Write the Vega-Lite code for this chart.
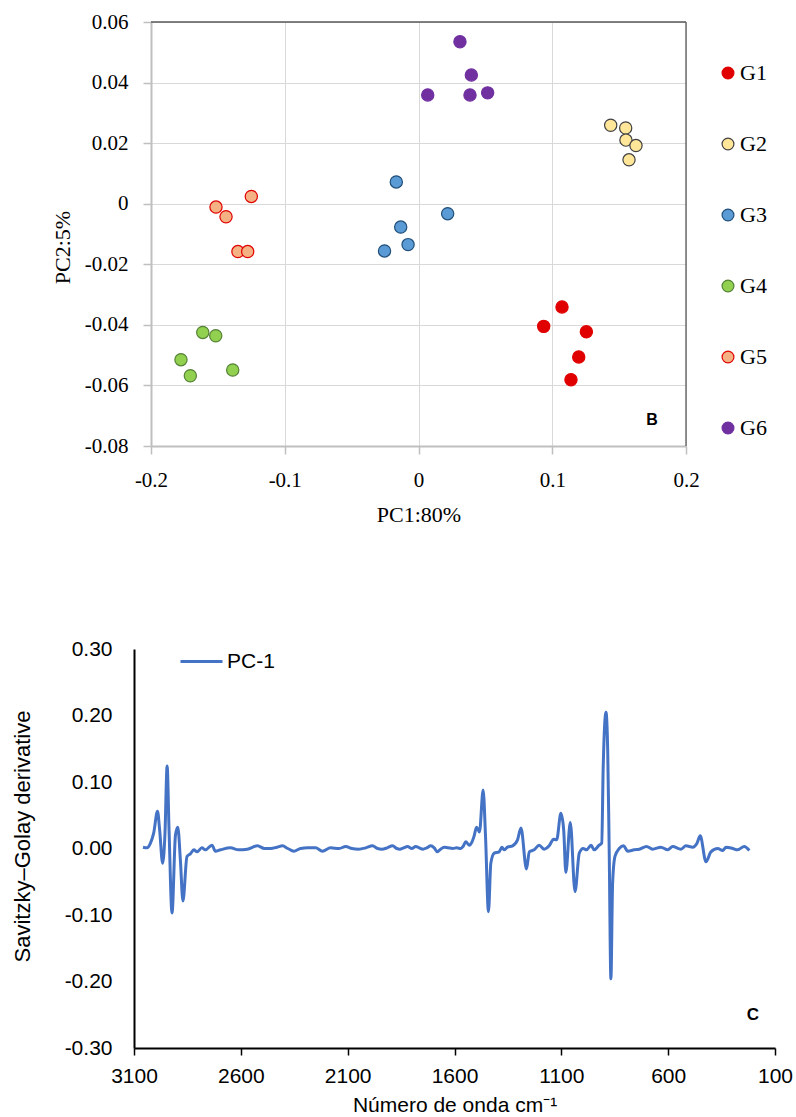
{
  "$schema": "https://vega.github.io/schema/vega-lite/v6.json",
  "padding": {"left": 11, "top": 11, "right": 5, "bottom": 0},
  "bounds": "flush",
  "spacing": 203,
  "config": {"view": {"stroke": null}, "background": "white"},
  "resolve": {"legend": {"color": "independent", "fill": "independent", "stroke": "independent"}},
  "vconcat": [
    {
      "width": 552,
      "height": 424,
      "layer": [
        {
          "data": {"values": [
            {"pc1": 0.1073, "pc2": -0.0341, "group": "G1"},
            {"pc1": 0.0936, "pc2": -0.0405, "group": "G1"},
            {"pc1": 0.1255, "pc2": -0.0423, "group": "G1"},
            {"pc1": 0.1198, "pc2": -0.0506, "group": "G1"},
            {"pc1": 0.114, "pc2": -0.0581, "group": "G1"},
            {"pc1": 0.1437, "pc2": 0.0259, "group": "G2"},
            {"pc1": 0.1549, "pc2": 0.025, "group": "G2"},
            {"pc1": 0.1551, "pc2": 0.021, "group": "G2"},
            {"pc1": 0.1626, "pc2": 0.0192, "group": "G2"},
            {"pc1": 0.1574, "pc2": 0.0145, "group": "G2"},
            {"pc1": -0.0166, "pc2": 0.0072, "group": "G3"},
            {"pc1": 0.0218, "pc2": -0.0033, "group": "G3"},
            {"pc1": -0.0133, "pc2": -0.0077, "group": "G3"},
            {"pc1": -0.0078, "pc2": -0.0135, "group": "G3"},
            {"pc1": -0.0254, "pc2": -0.0156, "group": "G3"},
            {"pc1": -0.1613, "pc2": -0.0425, "group": "G4"},
            {"pc1": -0.1516, "pc2": -0.0436, "group": "G4"},
            {"pc1": -0.1776, "pc2": -0.0515, "group": "G4"},
            {"pc1": -0.1706, "pc2": -0.0568, "group": "G4"},
            {"pc1": -0.1389, "pc2": -0.0549, "group": "G4"},
            {"pc1": -0.1514, "pc2": -0.0011, "group": "G5"},
            {"pc1": -0.1439, "pc2": -0.0043, "group": "G5"},
            {"pc1": -0.125, "pc2": 0.0024, "group": "G5"},
            {"pc1": -0.135, "pc2": -0.0158, "group": "G5"},
            {"pc1": -0.1277, "pc2": -0.0158, "group": "G5"},
            {"pc1": 0.031, "pc2": 0.0535, "group": "G6"},
            {"pc1": 0.0395, "pc2": 0.0425, "group": "G6"},
            {"pc1": 0.0069, "pc2": 0.0359, "group": "G6"},
            {"pc1": 0.0385, "pc2": 0.0359, "group": "G6"},
            {"pc1": 0.0517, "pc2": 0.0366, "group": "G6"}
          ]},
          "mark": {"type": "point", "filled": true, "size": 150, "strokeWidth": 1.2, "opacity": 1},
          "encoding": {
            "x": {
              "field": "pc1", "type": "quantitative",
              "scale": {"domain": [-0.2, 0.2], "range": [17, 552], "nice": false, "zero": false},
              "axis": {
                "values": [-0.2, -0.1, 0, 0.1, 0.2],
                "labelExpr": "datum.value == 0 ? '0' : replace(format(datum.value, '.1f'), '\u2212', '-')",
                "title": "PC1:80%",
                "grid": true, "gridColor": "#D9D9D9", "gridWidth": 1,
                "domainColor": "#BFBFBF", "domainWidth": 2,
                "tickColor": "#BFBFBF", "tickSize": 8, "tickWidth": 1.5,
                "labelFont": "Liberation Serif", "labelFontSize": 21, "labelColor": "#000", "labelPadding": 15,
                "labelFlush": false, "labelOverlap": false,
                "titleFont": "Liberation Serif", "titleFontSize": 22, "titleFontWeight": "normal", "titleColor": "#000", "titlePadding": 14
              }
            },
            "y": {
              "field": "pc2", "type": "quantitative",
              "scale": {"domain": [-0.08, 0.06], "nice": false, "zero": false},
              "axis": {
                "values": [-0.08, -0.06, -0.04, -0.02, 0, 0.02, 0.04, 0.06],
                "labelExpr": "datum.value == 0 ? '0' : replace(format(datum.value, '.2f'), '\u2212', '-')",
                "title": "PC2:5%",
                "offset": -17,
                "grid": true, "gridColor": "#D9D9D9", "gridWidth": 1,
                "domainColor": "#BFBFBF", "domainWidth": 2,
                "tickColor": "#BFBFBF", "tickSize": 8, "tickWidth": 1.5,
                "labelFont": "Liberation Serif", "labelFontSize": 21, "labelColor": "#000", "labelPadding": 15,
                "labelFlush": false, "labelOverlap": false,
                "titleFont": "Liberation Serif", "titleFontSize": 22, "titleFontWeight": "normal", "titleColor": "#000", "titlePadding": 10,
                "titleY": 225
              }
            },
            "fill": {
              "field": "group", "type": "nominal",
              "scale": {"domain": ["G1", "G2", "G3", "G4", "G5", "G6"], "range": ["#E00000", "#FFE699", "#5B9BD5", "#92D050", "#F4B183", "#7030A0"]},
              "legend": {"title": null, "orient": "none", "legendX": 583, "legendY": 40, "symbolType": "circle", "symbolSize": 140, "symbolStrokeWidth": 1.2, "labelFont": "Liberation Serif", "labelFontSize": 22, "labelColor": "#000", "rowPadding": 49, "labelOffset": 1}
            },
            "stroke": {
              "field": "group", "type": "nominal",
              "scale": {"domain": ["G1", "G2", "G3", "G4", "G5", "G6"], "range": ["#E00000", "#404040", "#1F4E79", "#548235", "#E00000", "#7030A0"]},
              "legend": {"title": null, "orient": "none", "legendX": 583, "legendY": 40, "symbolType": "circle", "symbolSize": 140, "symbolStrokeWidth": 1.2, "labelFont": "Liberation Serif", "labelFontSize": 22, "labelColor": "#000", "rowPadding": 49, "labelOffset": 1}
            }
          }
        },
        {
          "data": {"values": [{"x": 0.2, "y1": -0.08, "y2": 0.06}]},
          "mark": {"type": "rule", "color": "#595959", "strokeWidth": 1.3},
          "encoding": {
            "x": {"field": "x", "type": "quantitative"},
            "y": {"field": "y1", "type": "quantitative"},
            "y2": {"field": "y2"}
          }
        },
        {
          "data": {"values": [{"x1": -0.2, "x2": 0.2, "y": 0.06}]},
          "mark": {"type": "rule", "color": "#595959", "strokeWidth": 1.3},
          "encoding": {
            "x": {"field": "x1", "type": "quantitative"},
            "x2": {"field": "x2"},
            "y": {"field": "y", "type": "quantitative"}
          }
        },
        {
          "data": {"values": [{"x": 0.1746, "y": -0.0714, "label": "B"}]},
          "mark": {"type": "text", "font": "Liberation Sans", "fontSize": 16, "fontWeight": "bold", "color": "#000", "align": "center", "baseline": "middle"},
          "encoding": {
            "x": {"field": "x", "type": "quantitative"},
            "y": {"field": "y", "type": "quantitative"},
            "text": {"field": "label"}
          }
        }
      ]
    },
    {
      "width": 641,
      "height": 399,
      "layer": [
        {
          "data": {"values": [
            {"wn": 3058, "v": 0.002}, {"wn": 3039, "v": 0.001}, {"wn": 3023, "v": 0.008}, {"wn": 3008, "v": 0.023},
            {"wn": 2990, "v": 0.056}, {"wn": 2980, "v": 0.028}, {"wn": 2966, "v": -0.022}, {"wn": 2955, "v": 0.023},
            {"wn": 2945, "v": 0.124}, {"wn": 2936, "v": 0.028}, {"wn": 2922, "v": -0.097}, {"wn": 2906, "v": 0.020},
            {"wn": 2895, "v": 0.032}, {"wn": 2883, "v": -0.017}, {"wn": 2871, "v": -0.079}, {"wn": 2852, "v": -0.012},
            {"wn": 2836, "v": -0.008}, {"wn": 2820, "v": -0.002}, {"wn": 2805, "v": -0.005}, {"wn": 2782, "v": 0.001},
            {"wn": 2766, "v": -0.002}, {"wn": 2735, "v": 0.005}, {"wn": 2719, "v": -0.004}, {"wn": 2695, "v": -0.002},
            {"wn": 2649, "v": 0.001}, {"wn": 2610, "v": -0.002}, {"wn": 2570, "v": -0.001}, {"wn": 2522, "v": 0.004},
            {"wn": 2490, "v": 0.0}, {"wn": 2460, "v": 0.0}, {"wn": 2430, "v": 0.002}, {"wn": 2405, "v": 0.004},
            {"wn": 2380, "v": 0.0}, {"wn": 2352, "v": -0.004}, {"wn": 2320, "v": 0.0}, {"wn": 2287, "v": 0.001},
            {"wn": 2250, "v": 0.001}, {"wn": 2218, "v": -0.004}, {"wn": 2180, "v": 0.001}, {"wn": 2140, "v": 0.0},
            {"wn": 2109, "v": 0.003}, {"wn": 2080, "v": 0.0}, {"wn": 2048, "v": -0.001}, {"wn": 2015, "v": 0.001},
            {"wn": 1984, "v": 0.004}, {"wn": 1960, "v": 0.0}, {"wn": 1940, "v": -0.001}, {"wn": 1915, "v": 0.001},
            {"wn": 1890, "v": 0.004}, {"wn": 1870, "v": 0.0}, {"wn": 1856, "v": -0.001}, {"wn": 1838, "v": 0.001},
            {"wn": 1820, "v": 0.003}, {"wn": 1800, "v": 0.0}, {"wn": 1781, "v": 0.003}, {"wn": 1765, "v": 0.001},
            {"wn": 1748, "v": -0.001}, {"wn": 1730, "v": 0.001}, {"wn": 1711, "v": 0.004}, {"wn": 1695, "v": 0.001},
            {"wn": 1680, "v": -0.005}, {"wn": 1665, "v": -0.001}, {"wn": 1648, "v": 0.002}, {"wn": 1630, "v": 0.001},
            {"wn": 1608, "v": 0.0}, {"wn": 1590, "v": 0.001}, {"wn": 1570, "v": 0.0}, {"wn": 1560, "v": 0.003},
            {"wn": 1547, "v": 0.010}, {"wn": 1531, "v": 0.005}, {"wn": 1518, "v": 0.010}, {"wn": 1508, "v": 0.019},
            {"wn": 1497, "v": 0.032}, {"wn": 1483, "v": 0.025}, {"wn": 1466, "v": 0.088}, {"wn": 1455, "v": 0.02},
            {"wn": 1441, "v": -0.095}, {"wn": 1430, "v": -0.022}, {"wn": 1414, "v": -0.007}, {"wn": 1391, "v": -0.005},
            {"wn": 1378, "v": 0.002}, {"wn": 1368, "v": -0.002}, {"wn": 1352, "v": 0.002}, {"wn": 1328, "v": 0.004},
            {"wn": 1305, "v": 0.013}, {"wn": 1289, "v": 0.031}, {"wn": 1263, "v": -0.031}, {"wn": 1250, "v": -0.005},
            {"wn": 1227, "v": -0.002}, {"wn": 1204, "v": 0.005}, {"wn": 1180, "v": -0.001}, {"wn": 1157, "v": 0.004},
            {"wn": 1136, "v": 0.014}, {"wn": 1122, "v": 0.013}, {"wn": 1102, "v": 0.053}, {"wn": 1089, "v": 0.028},
            {"wn": 1079, "v": -0.036}, {"wn": 1058, "v": 0.039}, {"wn": 1036, "v": -0.065}, {"wn": 1016, "v": -0.007},
            {"wn": 998, "v": 0.0}, {"wn": 982, "v": -0.002}, {"wn": 961, "v": 0.005}, {"wn": 946, "v": -0.002},
            {"wn": 923, "v": 0.005}, {"wn": 911, "v": 0.008}, {"wn": 904, "v": 0.123}, {"wn": 891, "v": 0.205},
            {"wn": 883, "v": 0.148}, {"wn": 876, "v": -0.002}, {"wn": 868, "v": -0.196}, {"wn": 860, "v": -0.052},
            {"wn": 849, "v": -0.012}, {"wn": 829, "v": 0.0}, {"wn": 808, "v": 0.004}, {"wn": 790, "v": -0.004},
            {"wn": 759, "v": -0.002}, {"wn": 735, "v": -0.001}, {"wn": 701, "v": 0.003}, {"wn": 673, "v": -0.001},
            {"wn": 634, "v": 0.002}, {"wn": 602, "v": -0.002}, {"wn": 579, "v": 0.003}, {"wn": 540, "v": -0.001},
            {"wn": 517, "v": 0.004}, {"wn": 485, "v": 0.002}, {"wn": 465, "v": 0.008}, {"wn": 450, "v": 0.019},
            {"wn": 423, "v": -0.020}, {"wn": 400, "v": -0.005}, {"wn": 368, "v": 0.0}, {"wn": 345, "v": -0.003},
            {"wn": 329, "v": 0.002}, {"wn": 298, "v": 0.0}, {"wn": 275, "v": -0.002}, {"wn": 244, "v": 0.003},
            {"wn": 220, "v": -0.003}
          ]},
          "transform": [{"calculate": "'PC-1'", "as": "series"}],
          "mark": {"type": "line", "strokeWidth": 3, "interpolate": "monotone"},
          "encoding": {
            "x": {
              "field": "wn", "type": "quantitative",
              "scale": {"domain": [100, 3100], "reverse": true, "nice": false, "zero": false},
              "axis": {
                "values": [3100, 2600, 2100, 1600, 1100, 600, 100],
                "format": "d",
                "title": "Número de onda cm⁻¹",
                "grid": false,
                "domainColor": "#000", "domainWidth": 2,
                "tickColor": "#000", "tickSize": 7, "tickWidth": 1.5,
                "labelFont": "Liberation Sans", "labelFontSize": 21, "labelColor": "#000", "labelPadding": 10,
                "labelFlush": false, "labelOverlap": false,
                "titleFont": "Liberation Sans", "titleFontSize": 21, "titleFontWeight": "normal", "titleColor": "#000", "titlePadding": 8
              }
            },
            "y": {
              "field": "v", "type": "quantitative",
              "scale": {"domain": [-0.3, 0.3], "nice": false, "zero": false},
              "axis": {
                "values": [-0.3, -0.2, -0.1, 0, 0.1, 0.2, 0.3],
                "labelExpr": "replace(format(datum.value, '.2f'), '\u2212', '-')",
                "title": "Savitzky–Golay derivative",
                "grid": false,
                "ticks": false, "tickSize": 0,
                "domainColor": "#000", "domainWidth": 2,
                "labelFont": "Liberation Sans", "labelFontSize": 21, "labelColor": "#000", "labelPadding": 22,
                "labelFlush": false, "labelOverlap": false,
                "titleFont": "Liberation Sans", "titleFontSize": 22, "titleFontWeight": "normal", "titleColor": "#000", "titlePadding": 30,
                "titleY": 187
              }
            },
            "color": {
              "field": "series", "type": "nominal",
              "scale": {"range": ["#4472C4"]},
              "legend": {"title": null, "orient": "none", "legendX": 45, "legendY": -10, "symbolType": "stroke", "symbolSize": 1764, "symbolStrokeWidth": 3, "labelFont": "Liberation Sans", "labelFontSize": 21, "labelColor": "#000", "labelOffset": 3}
            }
          }
        },
        {
          "data": {"values": [{"wn": 203, "v": -0.25, "label": "C"}]},
          "mark": {"type": "text", "font": "Liberation Sans", "fontSize": 17, "fontWeight": "bold", "color": "#000", "align": "center", "baseline": "middle"},
          "encoding": {
            "x": {"field": "wn", "type": "quantitative"},
            "y": {"field": "v", "type": "quantitative"},
            "text": {"field": "label"}
          }
        }
      ]
    }
  ]
}
